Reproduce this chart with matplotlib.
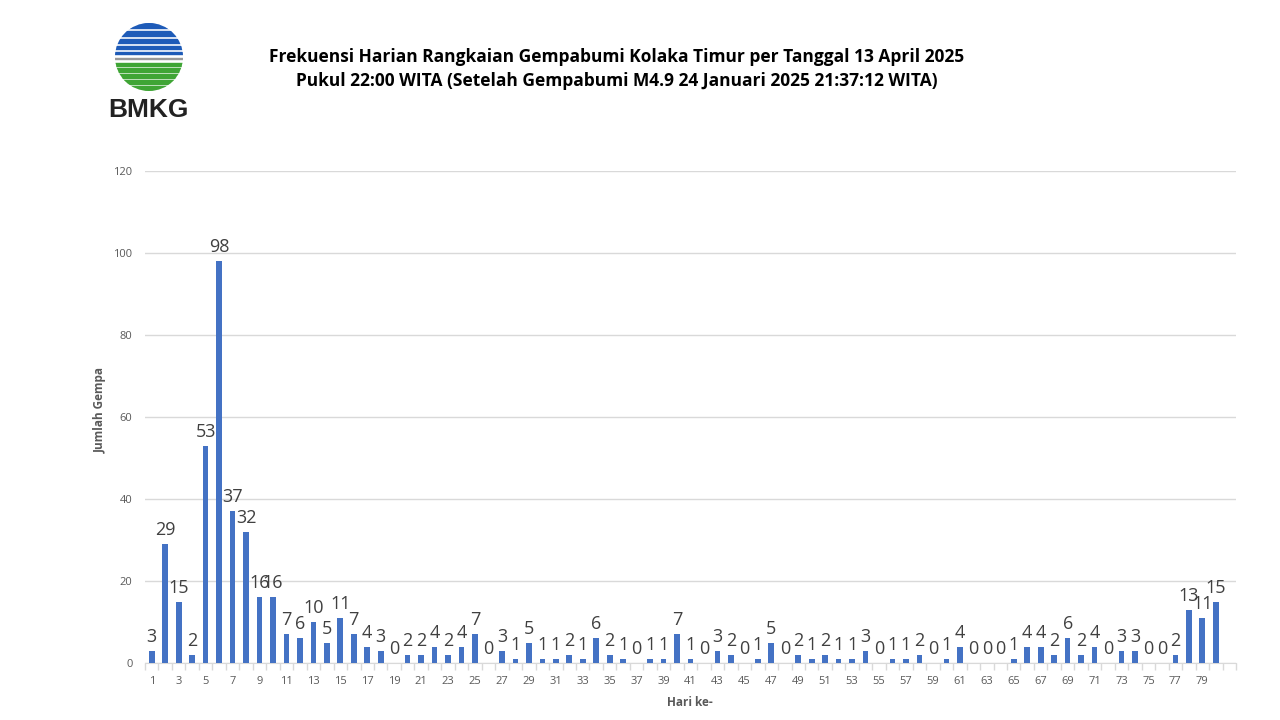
import matplotlib
matplotlib.use("Agg")
import matplotlib.pyplot as plt
import numpy as np
from matplotlib.patches import Circle, Rectangle

days = list(range(1, 81))
counts = [3, 29, 15, 2, 53, 98, 37, 32, 16, 16, 7, 6, 10, 5, 11, 7, 4, 3, 0, 2,
          2, 4, 2, 4, 7, 0, 3, 1, 5, 1, 1, 2, 1, 6, 2, 1, 0, 1, 1, 7,
          1, 0, 3, 2, 0, 1, 5, 0, 2, 1, 2, 1, 1, 3, 0, 1, 1, 2, 0, 1,
          4, 0, 0, 0, 1, 4, 4, 2, 6, 2, 4, 0, 3, 3, 0, 0, 2, 13, 11, 15]
xtick_labels = [str(d) for d in range(1, 80, 2)]
yticks = [0, 20, 40, 60, 80, 100, 120]

title = ("Frekuensi Harian Rangkaian Gempabumi Kolaka Timur per Tanggal 13 April 2025\n"
         "Pukul 22:00 WITA (Setelah Gempabumi M4.9 24 Januari 2025 21:37:12 WITA)")

plt.rcParams['font.family'] = ['Open Sans', 'DejaVu Sans']

fig = plt.figure(figsize=(12.8, 7.2), dpi=100)
ax = fig.add_axes([145/1280, 1-663/720, (1236-145)/1280, (663-171)/720])

ax.bar(days, counts, width=0.42, color='#4472C4', zorder=3)
for d, c in zip(days, counts):
    ax.text(d, c + 1.2, str(c), ha='center', va='bottom', fontsize=13,
            color='#404040', zorder=4)

ax.set_xlim(0.5, 81.5)
ax.set_ylim(0, 120)
ax.set_yticks(yticks)
ax.set_yticklabels([str(v) for v in yticks], fontsize=8, color='#595959')
ax.yaxis.grid(True, color='#D9D9D9', linewidth=1, zorder=0)
ax.tick_params(axis='y', length=0, pad=9)

ax.set_xticks(list(range(1, 80, 2)))
ax.set_xticklabels(xtick_labels, fontsize=8, color='#595959')
ax.set_xticks(np.arange(0.5, 82, 1.0), minor=True)
ax.tick_params(axis='x', which='major', length=0, pad=9)
ax.tick_params(axis='x', which='minor', length=5, color='#D9D9D9', width=1)

for s in ['top', 'right', 'left']:
    ax.spines[s].set_visible(False)
ax.spines['bottom'].set_color('#D9D9D9')

fig.text(100/1280, 1-410/720, "Jumlah Gempa", rotation=90, ha='center', va='center',
         fontsize=8.5, fontweight='bold', color='#595959')
fig.text(690/1280, 1-703/720, "Hari ke-", ha='center', va='center',
         fontsize=8.5, fontweight='bold', color='#595959')

fig.text(617/1280, 1-69/720, title, ha='center', va='center', fontsize=12.5,
         fontweight='bold', color='#000000', linespacing=1.45)

# Logo
lax = fig.add_axes([(149-40)/1280, 1-(57+40)/720, 80/1280, 80/720])
lax.set_xlim(-40, 40)
lax.set_ylim(-40, 40)
lax.set_aspect('equal')
lax.axis('off')
clip = Circle((0, 0), 34, transform=lax.transData)
blue_bands = [(29, 34), (21, 26), (14, 18.5), (8, 11.5), (3, 5.5)]
for y0, y1 in blue_bands:
    r = Rectangle((-40, y0), 80, y1 - y0, color='#1E5BB8')
    r.set_clip_path(clip)
    lax.add_patch(r)
r = Rectangle((-40, -2), 80, 1.0, color='#999999')
r.set_clip_path(clip)
lax.add_patch(r)
green_bands = [(-9, -6), (-15, -11), (-21, -17), (-27, -23), (-34, -29)]
for y0, y1 in green_bands:
    r = Rectangle((-40, y0), 80, y1 - y0, color='#3FA535')
    r.set_clip_path(clip)
    lax.add_patch(r)
fig.text(148/1280, 1-110/720, "BMKG", ha='center', va='center', fontsize=19,
         fontweight='bold', color='#222222', family=['Liberation Sans', 'DejaVu Sans'])

fig.savefig("out.png", dpi=100)
